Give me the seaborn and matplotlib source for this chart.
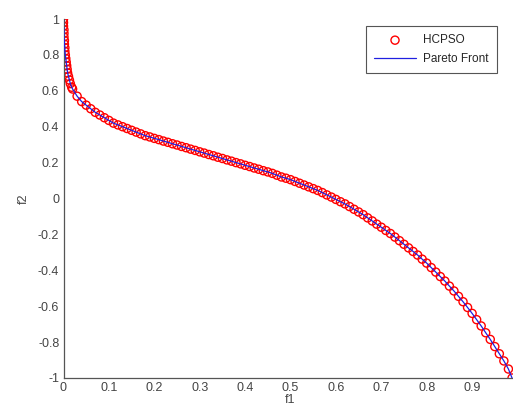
import matplotlib
matplotlib.use('Agg')
import matplotlib.pyplot as plt
import seaborn as sns
import pandas as pd

# HCPSO solutions (f1, f2)
f1 = [0.000, 0.000, 0.000, 0.001, 0.001, 0.001, 0.002, 0.002, 0.003, 0.003,
      0.004, 0.005, 0.006, 0.007, 0.008, 0.009, 0.011, 0.013, 0.015, 0.018,
      0.02, 0.03, 0.04, 0.05, 0.06, 0.07, 0.08, 0.09, 0.10, 0.11,
      0.12, 0.13, 0.14, 0.15, 0.16, 0.17, 0.18, 0.19, 0.20, 0.21,
      0.22, 0.23, 0.24, 0.25, 0.26, 0.27, 0.28, 0.29, 0.30, 0.31,
      0.32, 0.33, 0.34, 0.35, 0.36, 0.37, 0.38, 0.39, 0.40, 0.41,
      0.42, 0.43, 0.44, 0.45, 0.46, 0.47, 0.48, 0.49, 0.50, 0.51,
      0.52, 0.53, 0.54, 0.55, 0.56, 0.57, 0.58, 0.59, 0.60, 0.61,
      0.62, 0.63, 0.64, 0.65, 0.66, 0.67, 0.68, 0.69, 0.70, 0.71,
      0.72, 0.73, 0.74, 0.75, 0.76, 0.77, 0.78, 0.79, 0.80, 0.81,
      0.82, 0.83, 0.84, 0.85, 0.86, 0.87, 0.88, 0.89, 0.90, 0.91,
      0.92, 0.93, 0.94, 0.95, 0.96, 0.97, 0.98, 0.988]
f2 = [1.00, 0.98, 0.96, 0.94, 0.92, 0.90, 0.88, 0.86, 0.84, 0.82,
      0.80, 0.78, 0.76, 0.74, 0.72, 0.70, 0.68, 0.66, 0.64, 0.62,
      0.61, 0.57, 0.54, 0.52, 0.50, 0.48, 0.465, 0.45, 0.435, 0.42,
      0.41, 0.40, 0.39, 0.38, 0.37, 0.36, 0.35, 0.343, 0.335, 0.328,
      0.32, 0.313, 0.305, 0.298, 0.29, 0.283, 0.275, 0.268, 0.26, 0.253,
      0.245, 0.238, 0.23, 0.223, 0.215, 0.208, 0.20, 0.193, 0.185, 0.178,
      0.17, 0.163, 0.155, 0.148, 0.14, 0.13, 0.12, 0.113, 0.105, 0.095,
      0.085, 0.075, 0.065, 0.055, 0.045, 0.033, 0.02, 0.008, -0.005, -0.018,
      -0.03, -0.045, -0.06, -0.075, -0.09, -0.108, -0.125, -0.143, -0.16, -0.178,
      -0.195, -0.215, -0.235, -0.255, -0.275, -0.295, -0.315, -0.338, -0.36, -0.385,
      -0.41, -0.435, -0.46, -0.488, -0.515, -0.545, -0.575, -0.607, -0.64, -0.675,
      -0.71, -0.748, -0.785, -0.825, -0.865, -0.905, -0.95, -1.00]

xticks = [0, 0.1, 0.2, 0.3, 0.4, 0.5, 0.6, 0.7, 0.8, 0.9]
xticklabels = ['0', '0.1', '0.2', '0.3', '0.4', '0.5', '0.6', '0.7', '0.8', '0.9']
yticks = [-1, -0.8, -0.6, -0.4, -0.2, 0, 0.2, 0.4, 0.6, 0.8, 1]
yticklabels = ['-1', '-0.8', '-0.6', '-0.4', '-0.2', '0', '0.2', '0.4', '0.6', '0.8', '1']

df = pd.DataFrame({'f1': f1, 'f2': f2})

sns.set_style('white')
plt.rcParams['font.family'] = ['Liberation Sans', 'DejaVu Sans']

fig = plt.figure(figsize=(5.13, 4.18), dpi=100)
ax = fig.add_axes([63.5 / 513, 40 / 418, 454 / 513, 359 / 418])

sns.scatterplot(data=df, x='f1', y='f2', ax=ax, marker='o', s=34,
                facecolors='none', edgecolor='red', linewidth=1.0,
                label='HCPSO', zorder=2)
sns.lineplot(data=df, x='f1', y='f2', ax=ax, color='#2020e0', linewidth=0.9,
             sort=False, estimator=None, label='Pareto Front', zorder=3)

ax.set_xlim(0, 1)
ax.set_ylim(-1, 1)
ax.set_xticks(xticks)
ax.set_xticklabels(xticklabels)
ax.set_yticks(yticks)
ax.set_yticklabels(yticklabels)
ax.tick_params(direction='in', length=4, width=0.8, colors='#444444',
               labelsize=9, pad=3)
for s in ['top', 'right']:
    ax.spines[s].set_visible(False)
for s in ['left', 'bottom']:
    ax.spines[s].set_color('#555555')
    ax.spines[s].set_linewidth(0.9)

ax.set_xlabel('f1', fontsize=9, color='#444444', labelpad=0)
ax.set_ylabel('f2', fontsize=9, color='#444444', labelpad=6)

leg = ax.legend(loc='upper left', bbox_to_anchor=(302 / 454, 1 - 7 / 359),
                fontsize=8.5, frameon=True, fancybox=False, framealpha=1,
                edgecolor='#555555', borderpad=0.7, handlelength=3.6,
                handletextpad=0.6, labelspacing=0.55, borderaxespad=0)
leg.get_frame().set_linewidth(0.8)

fig.savefig('out.png', dpi=100)
